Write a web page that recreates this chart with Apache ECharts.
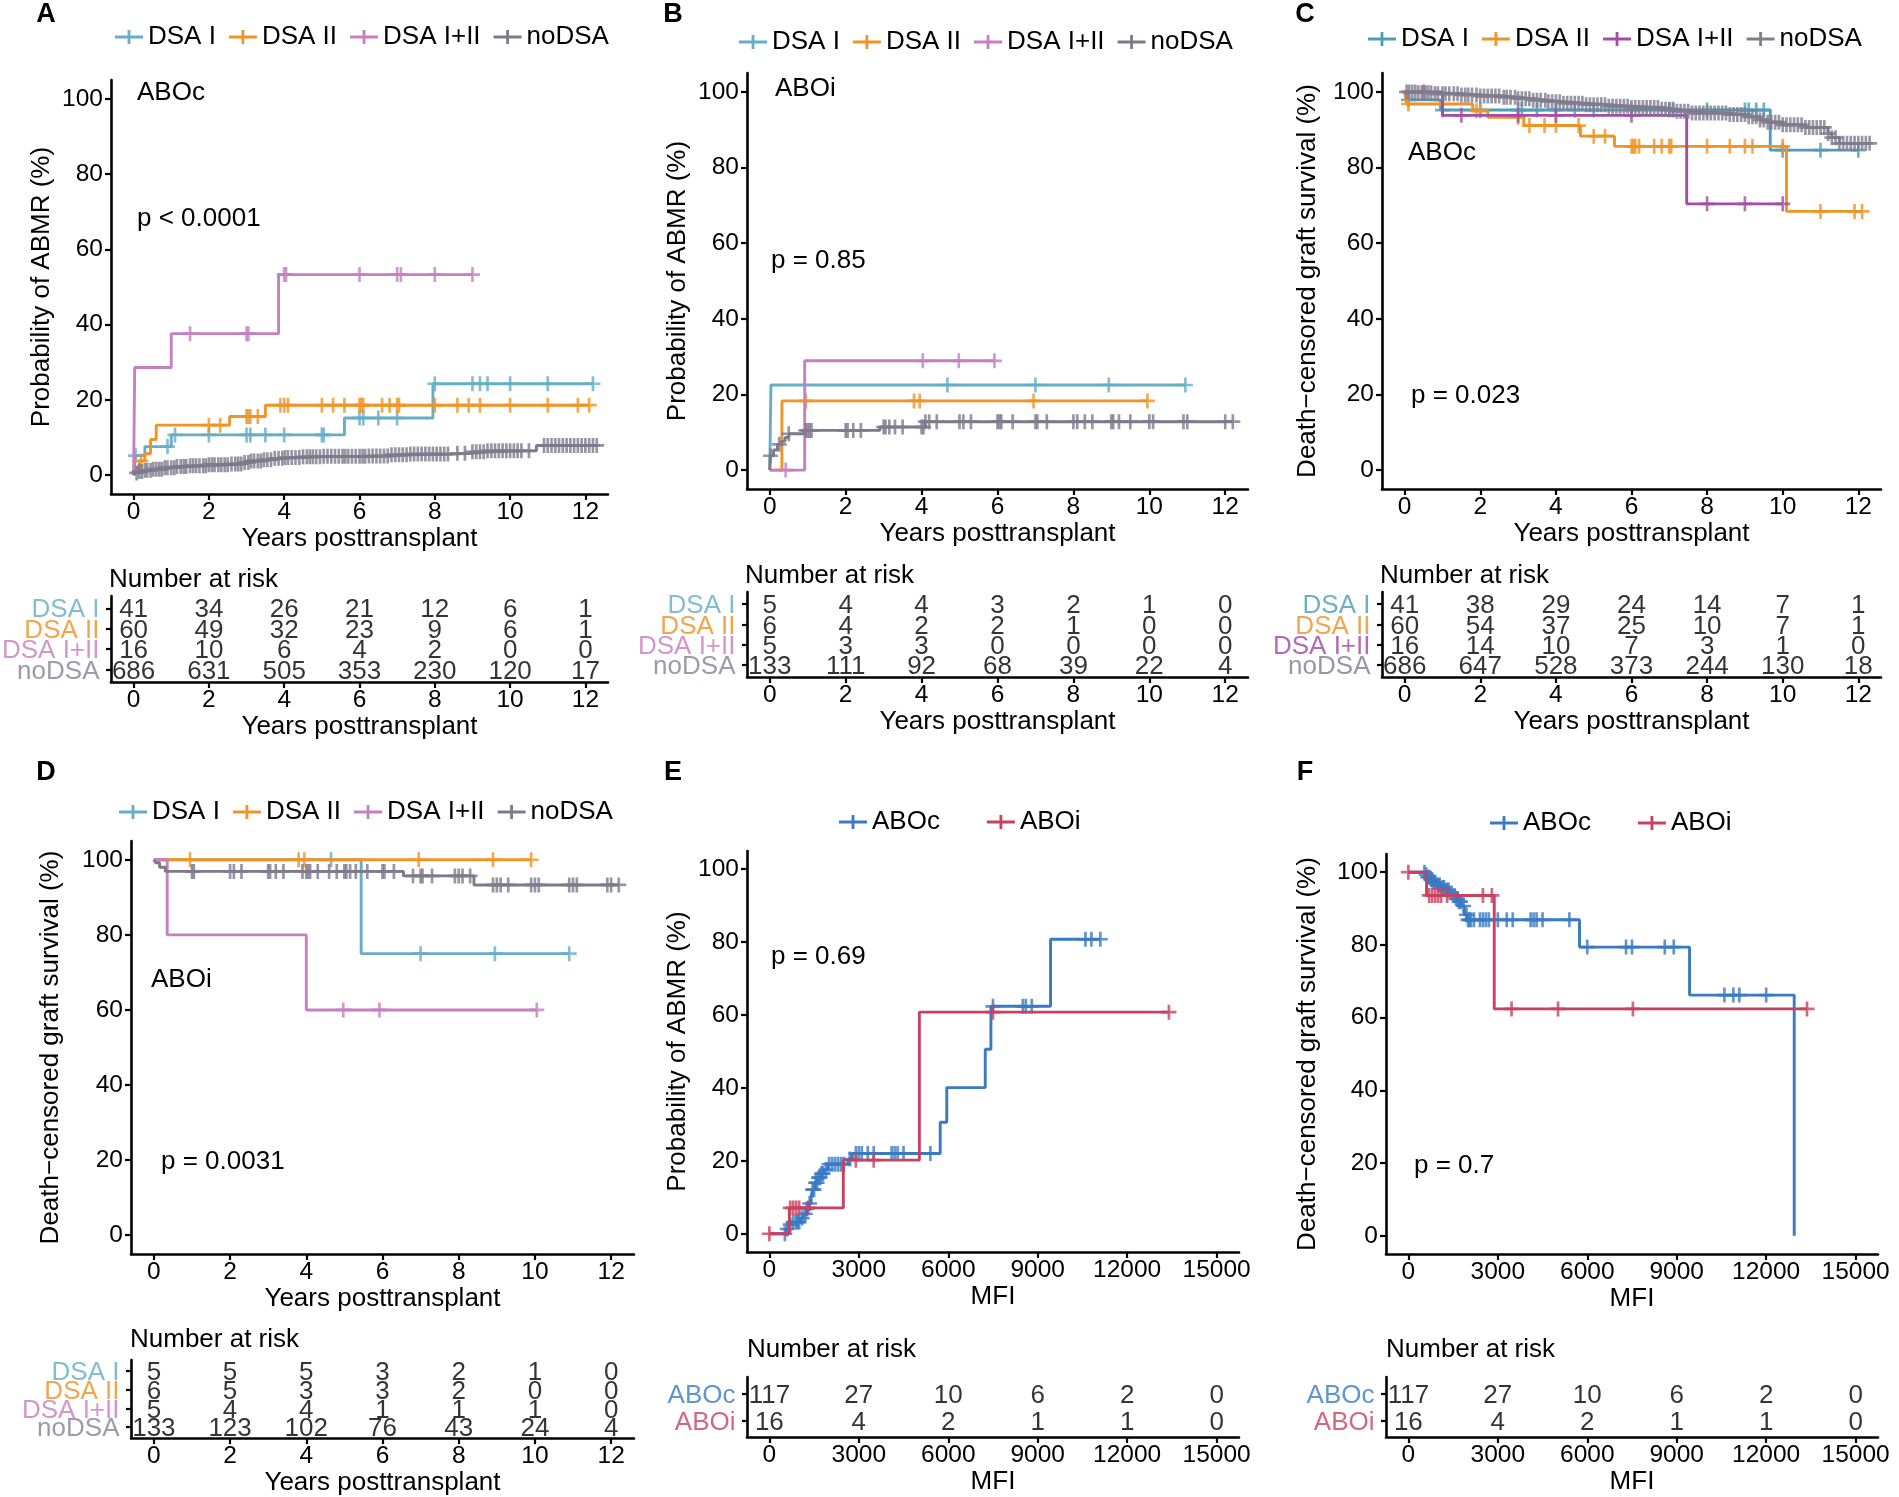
<!DOCTYPE html>
<html><head><meta charset="utf-8">
<script src="https://cdn.jsdelivr.net/npm/echarts@6/dist/echarts.min.js"></script>
<style>html,body{margin:0;padding:0;background:#fff}#main{width:1899px;height:1497px}</style>
</head><body><div id="main"></div>
<script>
// ---------------- DATA ----------------
const yearTicks = [0, 2, 4, 6, 8, 10, 12];
const mfiTicks = [0, 3000, 6000, 9000, 12000, 15000];
const pctTicks = [0, 20, 40, 60, 80, 100];
const dsaGroups = ['DSA I', 'DSA II', 'DSA I+II', 'noDSA'];
const aboGroups = ['ABOc', 'ABOi'];

// Panel A: ABOc, probability of ABMR
const A_dsaI_events = [[0,0],[0.05,5.2],[0.3,7.6],[1.0,10.7],[5.6,15.2],[7.95,24.3]];
const A_dsaI_censor = [0.05,0.9,1.1,2.0,3.0,3.1,3.5,4.0,5.0,5.05,6.0,6.1,6.5,7.0,8.0,9.0,9.2,9.4,10.0,11.0,12.2];
const A_dsaII_events = [[0,0],[0.05,1.9],[0.15,3.8],[0.3,5.7],[0.45,9.5],[0.6,13.3],[2.55,15.6],[3.5,18.6]];
const A_dsaII_censor = [0.2,2.0,2.3,3.0,3.05,3.1,3.3,3.9,4.0,4.1,5.0,5.3,5.6,6.0,6.05,6.1,6.6,6.8,7.0,7.05,8.0,8.6,8.9,9.2,10.0,11.0,11.8,12.1];
const A_dsaI_II_events = [[0,0],[0.03,28.6],[1.0,37.6],[3.85,53.3]];
const A_dsaI_II_censor = [1.5,3.0,3.05,4.0,4.05,6.0,7.0,7.1,8.0,9.0];
const A_noDSA_events = [[0,0],[0.05,0.6],[0.15,1.0],[0.3,1.3],[0.5,1.6],[0.8,2.0],[1.1,2.3],[1.5,2.5],[2.0,2.8],[2.6,3.0],[2.9,3.4],[3.1,3.8],[3.4,4.1],[3.7,4.5],[4.0,4.7],[4.5,4.9],[5.0,5.0],[6.2,5.1],[6.8,5.4],[7.3,5.6],[8.4,5.8],[9.0,6.2],[9.4,6.5],[10.7,7.9]];
const A_noDSA_censor = [0.08,0.15,0.22,0.3,0.36,0.45,0.52,0.6,0.68,0.75,0.83,0.9,1.0,1.08,1.15,1.25,1.33,1.4,1.5,1.58,1.66,1.75,1.85,1.92,2.0,2.08,2.15,2.25,2.33,2.42,2.5,2.6,2.7,2.78,2.86,2.95,3.05,3.12,3.2,3.3,3.38,3.46,3.55,3.65,3.75,3.85,3.95,4.02,4.1,4.2,4.3,4.4,4.5,4.6,4.68,4.76,4.85,4.95,5.05,5.15,5.25,5.35,5.45,5.55,5.62,5.7,5.8,5.9,6.0,6.08,6.15,6.25,6.35,6.45,6.55,6.65,6.75,6.85,6.95,7.05,7.15,7.25,7.35,7.45,7.55,7.65,7.75,7.85,7.95,8.05,8.15,8.25,8.35,8.6,8.8,9.0,9.1,9.2,9.3,9.4,9.5,9.6,9.7,9.8,9.9,10.0,10.1,10.2,10.3,10.5,10.9,11.0,11.1,11.2,11.3,11.4,11.5,11.6,11.7,11.8,11.9,12.0,12.1,12.2,12.3];
const riskA_dsaI = [41,34,26,21,12,6,1];
const riskA_dsaII = [60,49,32,23,9,6,1];
const riskA_dsaI_II = [16,10,6,4,2,0,0];
const riskA_noDSA = [686,631,505,353,230,120,17];

// Panel B: ABOi, probability of ABMR
const B_dsaI_events = [[0,0],[0.03,22.5]];
const B_dsaI_censor = [4.68,7.0,8.93,10.95];
const B_dsaII_events = [[0,0],[0.32,18.3]];
const B_dsaII_censor = [0.95,3.8,3.95,6.95,9.95];
const B_dsaI_II_events = [[0,0],[0.92,28.9]];
const B_dsaI_II_censor = [0.42,4.03,4.98,5.92];
const B_noDSA_events = [[0,0],[0.01,3.8],[0.1,5.3],[0.2,6.8],[0.3,7.6],[0.4,8.6],[0.5,9.6],[0.9,10.5],[2.9,11.4],[4.1,12.8]];
const B_noDSA_censor = [0.02,0.25,0.5,0.95,1.0,1.05,1.1,2.0,2.05,2.2,2.4,3.0,3.05,3.15,3.3,3.5,4.0,4.05,4.1,4.2,4.4,5.0,5.1,5.3,6.0,6.05,6.1,6.4,7.0,7.05,7.3,8.0,8.1,8.3,8.5,9.0,9.05,9.2,9.5,10.0,10.1,10.9,11.0,12.0,12.2];
const riskB_dsaI = [5,4,4,3,2,1,0];
const riskB_dsaII = [6,4,2,2,1,0,0];
const riskB_dsaI_II = [5,3,3,0,0,0,0];
const riskB_noDSA = [133,111,92,68,39,22,4];

// Panel C: ABOc, death-censored graft survival
const C_dsaI_events = [[0,100],[0.05,97.9],[0.95,95.2],[9.67,84.6]];
const C_dsaI_censor = [0.1,1.0,2.0,3.0,3.1,3.5,4.0,4.5,5.0,6.0,7.0,7.1,8.0,9.0,9.1,9.3,9.5,10.0,11.0,12.0];
const C_dsaII_events = [[0,100],[0.05,96.8],[1.8,95.0],[2.2,93.3],[3.15,91.1],[4.65,88.3],[5.55,85.6],[10.1,68.4]];
const C_dsaII_censor = [0.1,1.0,1.9,2.0,3.0,3.3,3.7,4.0,4.6,5.0,5.3,6.0,6.05,6.1,6.2,6.6,6.8,7.0,7.05,8.0,8.6,9.0,9.2,10.0,11.0,11.9,12.1];
const C_dsaI_II_events = [[0,100],[1.0,93.8],[7.46,70.4]];
const C_dsaI_II_censor = [0.5,1.5,3.0,4.0,6.0,8.0,9.0,10.0];
const C_noDSA_events = [[0,100],[0.3,99.8],[0.8,99.5],[1.5,99.2],[2.0,98.9],[2.6,98.6],[3.0,98.2],[3.4,97.8],[3.8,97.4],[4.2,97.0],[4.8,96.6],[5.4,96.2],[6.0,95.9],[6.8,95.4],[7.2,94.9],[7.6,94.4],[8.6,94.0],[9.1,93.4],[9.4,92.6],[9.6,92.0],[10.0,91.3],[10.6,90.6],[11.2,89.0],[11.3,87.9],[11.5,86.4]];
const C_noDSA_censor = [0.05,0.12,0.2,0.28,0.36,0.45,0.55,0.62,0.7,0.8,0.88,1.0,1.08,1.18,1.3,1.4,1.5,1.6,1.68,1.78,1.9,2.0,2.1,2.2,2.3,2.4,2.5,2.62,2.7,2.8,2.92,3.0,3.1,3.2,3.3,3.4,3.5,3.6,3.72,3.8,3.9,4.0,4.1,4.2,4.3,4.4,4.5,4.6,4.7,4.8,4.9,5.0,5.1,5.2,5.3,5.4,5.5,5.6,5.7,5.8,5.9,6.0,6.1,6.2,6.3,6.4,6.5,6.6,6.7,6.8,6.9,7.0,7.1,7.2,7.3,7.4,7.5,7.6,7.7,7.8,7.9,8.0,8.1,8.2,8.3,8.4,8.5,8.6,8.7,8.8,8.9,9.0,9.1,9.2,9.3,9.4,9.5,9.6,9.7,9.8,9.9,10.0,10.1,10.2,10.3,10.4,10.5,10.6,10.7,10.8,10.9,11.0,11.1,11.2,11.3,11.4,11.5,11.6,11.7,11.8,11.9,12.0,12.1,12.2,12.3];
const riskC_dsaI = [41,38,29,24,14,7,1];
const riskC_dsaII = [60,54,37,25,10,7,1];
const riskC_dsaI_II = [16,14,10,7,3,1,0];
const riskC_noDSA = [686,647,528,373,244,130,18];

// Panel D: ABOi, death-censored graft survival
const D_dsaI_events = [[0,100],[5.44,75.0]];
const D_dsaI_censor = [4.65,7.0,8.95,10.9];
const D_dsaII_events = [[0,100]];
const D_dsaII_censor = [0.95,3.8,3.95,6.95,8.9,9.9];
const D_dsaI_II_events = [[0,100],[0.35,80.0],[4.0,60.0]];
const D_dsaI_II_censor = [4.97,5.92,10.05];
const D_noDSA_events = [[0,100],[0.05,99.2],[0.15,98.0],[0.3,96.9],[6.55,95.7],[8.4,93.3]];
const D_noDSA_censor = [1.0,1.05,2.0,2.1,2.3,3.0,3.05,3.2,3.4,3.9,4.0,4.05,4.1,4.3,4.6,4.8,5.0,5.05,5.15,5.3,5.6,6.0,6.05,6.3,6.8,7.0,7.05,7.3,7.9,8.0,8.1,8.3,8.9,9.0,9.1,9.3,9.9,10.0,10.1,10.9,11.0,11.1,11.9,12.0,12.2];
const riskD_dsaI = [5,5,5,3,2,1,0];
const riskD_dsaII = [6,5,3,3,2,0,0];
const riskD_dsaI_II = [5,4,4,1,1,1,0];
const riskD_noDSA = [133,123,102,76,43,24,4];

// Panel E: probability of ABMR by MFI
const E_aboc_events = [[0,0],[560,1.3],[640,2.5],[760,3.2],[1050,4.3],[1150,5.5],[1250,6.8],[1330,8.3],[1400,10.2],[1450,12.1],[1520,14.0],[1620,15.4],[1720,16.5],[1830,17.6],[1960,19.1],[2650,20.5],[2780,22.0],[5730,30.6],[5950,40.1],[7240,50.6],[7430,62.4],[9430,80.8]];
const E_aboc_censor = [520,600,700,800,900,950,1000,1100,1200,1250,1350,1450,1500,1550,1600,1650,1700,1750,1800,1900,2000,2100,2200,2300,2400,2500,2700,2900,3000,3100,3300,3500,4100,4200,4300,4500,5400,7500,8500,8600,8800,10600,10800,11100];
const E_aboi_events = [[0,0],[670,7.1],[2480,20.2],[5030,60.8]];
const E_aboi_censor = [0,700,800,900,1000,1300,2900,3500,7500,13400];
const riskE_aboc = [117,27,10,6,2,0];
const riskE_aboi = [16,4,2,1,1,0];

// Panel F: death-censored graft survival by MFI
const F_aboc_events = [[0,100],[560,99.3],[640,98.6],[720,97.9],[830,97.2],[950,96.5],[1100,95.8],[1250,95.1],[1400,94.3],[1500,93.5],[1580,92.7],[1680,91.9],[1780,90.7],[1880,88.3],[1960,86.9],[5740,79.4],[9430,66.2],[12940,0]];
const F_aboc_censor = [540,600,650,700,760,800,850,900,1000,1050,1150,1200,1300,1350,1450,1550,1600,1650,1700,1750,1850,1950,2000,2050,2100,2200,2400,2500,2600,2700,3000,3300,3500,4100,4200,4300,4500,5400,6000,7300,7500,8600,8900,10600,10900,11100,12000];
const F_aboi_events = [[0,100],[610,93.6],[2880,62.4]];
const F_aboi_censor = [0,700,800,900,1000,1100,1300,2500,2800,3460,5020,7530,13370];
const riskF_aboc = [117,27,10,6,2,0];
const riskF_aboi = [16,4,2,1,1,0];

// ---------------- STYLE / LAYOUT ----------------
const FONT = '"Liberation Sans", Arial, sans-serif';
const palA = ['#64aec6', '#ef9427', '#c67fc1', '#7e7a8c'];
const palC = ['#4e9db6', '#ee9426', '#a24ea8', '#807c8e'];
const palE = ['#3a7ac3', '#c8415f'];
const lblA = ['#62abc4', '#ee9020', '#c77bc0', '#858296'];
const lblC = ['#4c9ab3', '#ee9020', '#9e46a4', '#7f7c8e'];
const TXT = 26, TICK = 24.5;

const panels = [
  {id:'A', grid:{left:111,top:80,width:497,height:414}, table:{left:111,top:596,width:497,height:86},
   xRange:[-0.6,12.6], xTicks:yearTicks, xName:'Years posttransplant', yName:'Probability of ABMR (%)', yNameGap:56,
   groups:dsaGroups, colors:palA, labelColors:lblA,
   curves:[[A_dsaI_events,A_dsaI_censor],[A_dsaII_events,A_dsaII_censor],[A_dsaI_II_events,A_dsaI_II_censor],[A_noDSA_events,A_noDSA_censor]],
   risk:[riskA_dsaI,riskA_dsaII,riskA_dsaI_II,riskA_noDSA],
   legend:{left:115,top:24,gap:13}, letter:[46,15], riskTitle:[109,580],
   notes:[['ABOc',137,93],['p < 0.0001',137,219]]},
  {id:'B', grid:{left:747,top:73,width:501,height:416}, table:{left:747,top:592,width:501,height:85},
   xRange:[-0.6,12.6], xTicks:yearTicks, xName:'Years posttransplant', yName:'Probability of ABMR (%)', yNameGap:56,
   groups:dsaGroups, colors:palA, labelColors:lblA,
   curves:[[B_dsaI_events,B_dsaI_censor],[B_dsaII_events,B_dsaII_censor],[B_dsaI_II_events,B_dsaI_II_censor],[B_noDSA_events,B_noDSA_censor]],
   risk:[riskB_dsaI,riskB_dsaII,riskB_dsaI_II,riskB_noDSA],
   legend:{left:739,top:29,gap:13}, letter:[673,15], riskTitle:[745,576],
   notes:[['ABOi',775,89],['p = 0.85',771,261]]},
  {id:'C', grid:{left:1382,top:73,width:499,height:416}, table:{left:1382,top:592,width:499,height:85},
   xRange:[-0.6,12.6], xTicks:yearTicks, xName:'Years posttransplant', yName:'Death\u2212censored graft survival (%)', yNameGap:61,
   groups:dsaGroups, colors:palC, labelColors:lblC,
   curves:[[C_dsaI_events,C_dsaI_censor],[C_dsaII_events,C_dsaII_censor],[C_dsaI_II_events,C_dsaI_II_censor],[C_noDSA_events,C_noDSA_censor]],
   risk:[riskC_dsaI,riskC_dsaII,riskC_dsaI_II,riskC_noDSA],
   legend:{left:1368,top:26,gap:13}, letter:[1305,15], riskTitle:[1380,576],
   notes:[['ABOc',1408,153],['p = 0.023',1411,396]]},
  {id:'D', grid:{left:131,top:841,width:503,height:413}, table:{left:131,top:1360,width:503,height:85},
   xRange:[-0.6,12.6], xTicks:yearTicks, xName:'Years posttransplant', yName:'Death\u2212censored graft survival (%)', yNameGap:67,
   groups:dsaGroups, colors:palA, labelColors:lblA,
   curves:[[D_dsaI_events,D_dsaI_censor],[D_dsaII_events,D_dsaII_censor],[D_dsaI_II_events,D_dsaI_II_censor],[D_noDSA_events,D_noDSA_censor]],
   risk:[riskD_dsaI,riskD_dsaII,riskD_dsaI_II,riskD_noDSA],
   legend:{left:119,top:799,gap:13}, letter:[46,773], riskTitle:[130,1340],
   notes:[['ABOi',151,980],['p = 0.0031',161,1162]]},
  {id:'E', grid:{left:747,top:851,width:492,height:401}, table:{left:747,top:1377,width:492,height:60},
   xRange:[-750,15750], xTicks:mfiTicks, xName:'MFI', yName:'Probability of ABMR (%)', yNameGap:56,
   groups:aboGroups, colors:palE, labelColors:palE,
   curves:[[E_aboc_events,E_aboc_censor],[E_aboi_events,E_aboi_censor]],
   risk:[riskE_aboc,riskE_aboi],
   legend:{left:839,top:809,gap:47}, letter:[673,773], riskTitle:[747,1350],
   notes:[['p = 0.69',771,957]]},
  {id:'F', grid:{left:1386,top:854,width:492,height:400}, table:{left:1386,top:1377,width:492,height:60},
   xRange:[-750,15750], xTicks:mfiTicks, xName:'MFI', yName:'Death\u2212censored graft survival (%)', yNameGap:65,
   groups:aboGroups, colors:palE, labelColors:palE,
   curves:[[F_aboc_events,F_aboc_censor],[F_aboi_events,F_aboi_censor]],
   risk:[riskF_aboc,riskF_aboi],
   legend:{left:1490,top:810,gap:47}, letter:[1305,773], riskTitle:[1386,1350],
   notes:[['p = 0.7',1414,1166]]}
];

// ---------------- BUILD ----------------
function stepAt(ev, t) { let v = ev[0][1]; for (const p of ev) { if (p[0] <= t + 1e-9) v = p[1]; } return v; }
function curveData(ev, cens) {
  const d = ev.slice(); const lastT = ev[ev.length-1][0];
  const end = Math.max(lastT, ...cens);
  if (end > lastT) d.push([end, ev[ev.length-1][1]]);
  return d;
}
const plusSym = 'path://M5.75,0H8.25V5.75H14V8.25H8.25V14H5.75V8.25H0V5.75H5.75Z';
const legendIcon = 'path://M0,5.6H28V8.4H0Z M12.6,0H15.4V14H12.6Z';
const axLine = () => ({show:true, onZero:false, lineStyle:{color:'#000', width:2.6}});
const axTick = (vals, len) => ({show:true, length:len || 6, customValues:vals, lineStyle:{color:'#000', width:2.2}});
const axLabel = (vals, extra) => Object.assign({show:true, customValues:vals, margin:6, fontSize:TICK, color:'#000', fontFamily:FONT,
  showMinLabel:true, showMaxLabel:true, hideOverlap:false, formatter:(v) => String(v)}, extra || {});
const nameStyle = () => ({fontSize:TXT, color:'#000', fontFamily:FONT});

const grids = [], xAxes = [], yAxes = [], series = [], legends = [], graphics = [];
panels.forEach((P) => {
  const gi = grids.length;
  grids.push(Object.assign({containLabel:false}, P.grid));
  grids.push(Object.assign({containLabel:false}, P.table));
  // plot axes
  xAxes.push({gridIndex:gi, type:'value', min:P.xRange[0], max:P.xRange[1], axisLine:axLine(), axisTick:axTick(P.xTicks),
    axisLabel:axLabel(P.xTicks), splitLine:{show:false}, name:P.xName, nameLocation:'middle', nameGap:22, nameTextStyle:nameStyle()});
  yAxes.push({gridIndex:gi, type:'value', min:-5, max:105, axisLine:axLine(), axisTick:axTick(pctTicks),
    axisLabel:axLabel(pctTicks, {margin:8}), splitLine:{show:false}, name:P.yName, nameLocation:'middle', nameGap:P.yNameGap, nameRotate:90, nameTextStyle:nameStyle()});
  // table axes
  const n = P.groups.length;
  const rows = P.groups.map((g, i) => n - i);
  xAxes.push({gridIndex:gi+1, type:'value', min:P.xRange[0], max:P.xRange[1], axisLine:axLine(), axisTick:axTick(P.xTicks),
    axisLabel:axLabel(P.xTicks), splitLine:{show:false}, name:P.xName, nameLocation:'middle', nameGap:22, nameTextStyle:nameStyle()});
  yAxes.push({gridIndex:gi+1, type:'value', min:0.4, max:n+0.6, axisLine:axLine(), axisTick:axTick(rows, 5),
    axisLabel:{show:false}, splitLine:{show:false}});
  // curves
  P.curves.forEach((c, ci) => {
    const name = P.id + '|' + P.groups[ci];
    const col = P.colors[ci];
    series.push({type:'line', name, xAxisIndex:gi, yAxisIndex:gi, data:curveData(c[0], c[1]), step:'end',
      showSymbol:false, symbol:'none', lineStyle:{color:col, width:2.9}, itemStyle:{color:col}, silent:true, z:2+ci});
    series.push({type:'scatter', name, xAxisIndex:gi, yAxisIndex:gi, data:c[1].map(t => [t, stepAt(c[0], t)]),
      symbol:plusSym, symbolSize:15, itemStyle:{color:col}, silent:true, z:2+ci});
  });
  // risk table: row labels and numbers
  P.groups.forEach((g, i) => {
    series.push({type:'scatter', name:'rowlabel_' + P.id + '_' + i, xAxisIndex:gi+1, yAxisIndex:gi+1, clip:false,
      data:[[P.xRange[0], n - i]], symbolSize:1, itemStyle:{color:'rgba(0,0,0,0)'},
      label:{show:true, position:'left', distance:11, offset:[0, 2], formatter:() => g, fontSize:TXT, color:P.labelColors[i], fontFamily:FONT}, silent:true});
  });
  P.risk.forEach((vals, i) => {
    series.push({type:'scatter', name:'risk_' + P.id + '_' + i, xAxisIndex:gi+1, yAxisIndex:gi+1,
      data:P.xTicks.map((t, j) => [t, n - i, vals[j]]), symbolSize:1, itemStyle:{color:'rgba(0,0,0,0)'},
      label:{show:true, position:'inside', offset:[0, 2], formatter:(p) => String(p.value[2]), fontSize:TXT, color:'#000', fontFamily:FONT}, silent:true});
  });
  legends.push({data:P.groups.map(g => P.id + '|' + g), left:P.legend.left, top:P.legend.top, itemGap:P.legend.gap,
    itemWidth:28, itemHeight:14, icon:legendIcon, formatter:(nm) => nm.split('|')[1], padding:0, selectedMode:false,
    textStyle:{fontSize:TXT, color:'#000', fontFamily:FONT}});
  graphics.push({type:'text', x:P.letter[0], y:P.letter[1], style:{text:P.id, font:'bold 27px ' + FONT, fill:'#000', textAlign:'center', textVerticalAlign:'middle', align:'center', verticalAlign:'middle'}});
  graphics.push({type:'text', x:P.riskTitle[0], y:P.riskTitle[1], style:{text:'Number at risk', font:TXT + 'px ' + FONT, fill:'#000', textAlign:'left', textVerticalAlign:'middle', align:'left', verticalAlign:'middle'}});
  P.notes.forEach(nt => graphics.push({type:'text', x:nt[1], y:nt[2], style:{text:nt[0], font:TXT + 'px ' + FONT, fill:'#000', textAlign:'left', textVerticalAlign:'middle', align:'left', verticalAlign:'middle'}}));
});

const chart = echarts.init(document.getElementById('main'), null, {width:1899, height:1497});
chart.setOption({
  animation:false, backgroundColor:'#fff', textStyle:{fontFamily:FONT},
  grid:grids, xAxis:xAxes, yAxis:yAxes, legend:legends, series, graphic:{elements:graphics}
});
</script></body></html>
